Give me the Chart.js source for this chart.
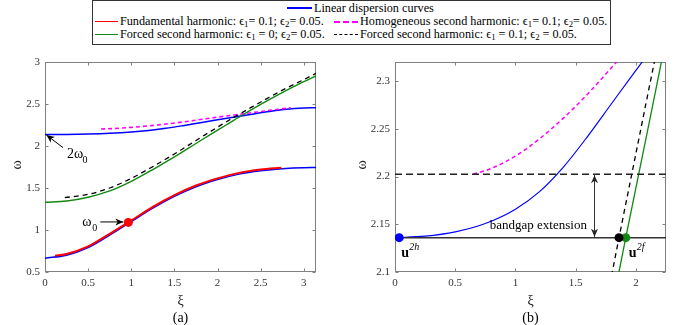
<!DOCTYPE html>
<html><head><meta charset="utf-8">
<script src="https://cdn.jsdelivr.net/npm/chart.js@4.4.0/dist/chart.umd.min.js"></script>
<style>
html,body{margin:0;padding:0;background:#fff;}
#wrap{position:relative;width:700px;height:325px;overflow:hidden;font-family:"Liberation Serif","Times New Roman",serif;}
canvas{position:absolute;top:0;}
#ca{left:0;}
#cb{left:350px;}
#legend{position:absolute;left:92px;top:0;width:519px;height:45px;border:1px solid #333;box-sizing:border-box;background:#fff;}
.item{position:absolute;white-space:nowrap;line-height:13px;font-size:12.2px;color:#000;}
.sw{position:absolute;height:0;}
sub{font-size:0.72em;vertical-align:-0.25em;line-height:0;}
</style></head>
<body>
<div id="wrap">
  <canvas id="ca" width="350" height="325"></canvas>
  <canvas id="cb" width="350" height="325"></canvas>
  <div id="legend"></div>
  <div class="sw" style="left:287px;top:7px;width:25px;border-top:2px solid #0000ff"></div>
  <div class="item" style="left:314px;top:1.5px">Linear dispersion curves</div>
  <div class="sw" style="left:95px;top:20.5px;width:23px;border-top:1.5px solid #ff0000"></div>
  <div class="item" style="left:120px;top:15px">Fundamental harmonic: ϵ<sub>1</sub>= 0.1; ϵ<sub>2</sub>= 0.05.</div>
  <div class="sw" style="left:334px;top:20.5px;width:24px;border-top:2px dashed #ff00ff"></div>
  <div class="item" style="left:360px;top:15px">Homogeneous second harmonic: ϵ<sub>1</sub>= 0.1; ϵ<sub>2</sub>= 0.05.</div>
  <div class="sw" style="left:95px;top:33.5px;width:23px;border-top:1.5px solid #118811"></div>
  <div class="item" style="left:120px;top:28px">Forced second harmonic: ϵ<sub>1</sub> = 0; ϵ<sub>2</sub>= 0.05.</div>
  <div class="sw" style="left:334px;top:33.5px;width:24px;border-top:1.5px dashed #000"></div>
  <div class="item" style="left:360px;top:28px">Forced second harmonic: ϵ<sub>1</sub> = 0.1; ϵ<sub>2</sub> = 0.05.</div>
</div>
<script>
// ---------- data ----------
// Linear dispersion curves (blue): lower and upper branch
const linearLowXi = [0, 0.25, 0.5, 0.75, 1.0, 1.25, 1.5, 1.75, 2.0, 2.25, 2.5, 2.75, 3.0, 3.1416];
const linearLowW  = [0.665, 0.70, 0.79, 0.94, 1.10, 1.26, 1.40, 1.515, 1.60, 1.665, 1.705, 1.73, 1.742, 1.743];
const linearUpXi  = [0, 0.25, 0.5, 0.75, 1.0, 1.2, 1.4, 1.6, 1.8, 2.0, 2.2, 2.4, 2.6, 2.8, 3.0, 3.1416];
const linearUpW   = [2.136, 2.1375, 2.142, 2.1508, 2.1658, 2.1842, 2.2102, 2.2422, 2.2768, 2.3112, 2.345, 2.378, 2.41, 2.437, 2.452, 2.456];
// Fundamental harmonic, eps1 = 0.1, eps2 = 0.05 (red)
const fundXi = [0.116, 0.25, 0.5, 0.75, 0.966, 1.25, 1.5, 1.75, 2.0, 2.25, 2.5, 2.74];
const fundW  = [0.695, 0.715, 0.805, 0.955, 1.09, 1.275, 1.415, 1.53, 1.615, 1.68, 1.72, 1.742];
// Homogeneous second harmonic (magenta dashed)
const homXi = [0.65, 0.8, 1.0, 1.2, 1.4, 1.6, 1.8, 2.0, 2.2, 2.4, 2.6, 2.85];
const homW  = [2.2025, 2.2085, 2.2215, 2.2395, 2.2615, 2.2865, 2.3145, 2.3435, 2.37, 2.397, 2.424, 2.455];
// Forced second harmonic, eps1 = 0 (green)
const forced0Xi = [0, 0.25, 0.5, 0.75, 1.0, 1.25, 1.5, 1.75, 1.916, 2.1, 2.3, 2.5, 2.75, 3.0, 3.1416];
const forced0W  = [1.33, 1.345, 1.39, 1.465, 1.58, 1.72, 1.87, 2.03, 2.136, 2.25, 2.375, 2.495, 2.635, 2.765, 2.835];
// Forced second harmonic, eps1 = 0.1 (black dashed)
const forced1Xi = [0.23, 0.5, 0.75, 1.0, 1.25, 1.5, 1.75, 1.86, 2.0, 2.17, 2.4, 2.6, 2.8, 3.0, 3.1416];
const forced1W  = [1.385, 1.425, 1.50, 1.615, 1.755, 1.905, 2.065, 2.136, 2.224, 2.33, 2.465, 2.58, 2.69, 2.79, 2.865];
// Marked points and band levels
const omega0Point   = [0.966, 1.09];
const u2hLevel      = 2.136;
const extendedLevel = 2.2025;
const u2hPoint      = [0.035, 2.136];
const cross1Point   = [1.86, 2.136];
const cross0Point   = [1.916, 2.136];
const bandgapArrowXi = 1.654;
// Axes
const aXRange = [0, Math.PI], aYRange = [0.5, 3];
const aXTicks = [0, 0.5, 1, 1.5, 2, 2.5, 3];
const aYTicks = [0.5, 1, 1.5, 2, 2.5, 3];
const bXRange = [0, 2.25], bYRange = [2.1, 2.32];
const bXTicks = [0, 0.5, 1, 1.5, 2];
const bYTicks = [2.1, 2.15, 2.2, 2.25, 2.3];

// ---------- helpers ----------
const FONT = "'Liberation Serif','Times New Roman',serif";
const fmt = v => String(Math.round(v * 100) / 100);
const pts = (xs, ws) => xs.map((v, i) => ({x: v, y: ws[i]}));
function lineDs(xs, ws, color, width, dash) {
  return {data: pts(xs, ws), borderColor: color, borderWidth: width, borderDash: dash || [],
    pointRadius: 0, showLine: true, fill: false, cubicInterpolationMode: 'monotone'};
}
function dotDs(p, color, r) {
  return {data: [{x: p[0], y: p[1]}], backgroundColor: color, borderColor: color, borderWidth: 0,
    pointRadius: r, showLine: false};
}
function arrowHead(ctx, x0, y0, x1, y1, len, hw) {
  const a = Math.atan2(y1 - y0, x1 - x0);
  ctx.beginPath();
  ctx.moveTo(x1, y1);
  ctx.lineTo(x1 - len * Math.cos(a) + hw * Math.sin(a), y1 - len * Math.sin(a) - hw * Math.cos(a));
  ctx.lineTo(x1 - len * 0.7 * Math.cos(a), y1 - len * 0.7 * Math.sin(a));
  ctx.lineTo(x1 - len * Math.cos(a) - hw * Math.sin(a), y1 - len * Math.sin(a) + hw * Math.cos(a));
  ctx.closePath();
  ctx.fill();
}
function arrow(ctx, x0, y0, x1, y1) {
  ctx.beginPath(); ctx.moveTo(x0, y0); ctx.lineTo(x1, y1); ctx.stroke();
  arrowHead(ctx, x0, y0, x1, y1, 8, 3.5);
}

const framePlugin = {
  id: 'frame',
  beforeDatasetsDraw(chart) {
    const {ctx, chartArea: a, scales: {x, y}} = chart;
    ctx.save();
    ctx.strokeStyle = '#808080'; ctx.lineWidth = 1;
    const L = Math.round(a.left) + 0.5, R = Math.round(a.right) - 0.5;
    const T = Math.round(a.top) + 0.5, B = Math.round(a.bottom) - 0.5;
    ctx.strokeRect(L, T, R - L, B - T);
    ctx.beginPath();
    x.ticks.forEach(t => {
      const px = Math.round(x.getPixelForValue(t.value)) + 0.5;
      ctx.moveTo(px, B); ctx.lineTo(px, B - 3);
      ctx.moveTo(px, T); ctx.lineTo(px, T + 3);
    });
    y.ticks.forEach(t => {
      const py = Math.round(y.getPixelForValue(t.value)) + 0.5;
      ctx.moveTo(L, py); ctx.lineTo(L + 3, py);
      ctx.moveTo(R, py); ctx.lineTo(R - 3, py);
    });
    ctx.stroke();
    // rotated y-axis label
    ctx.fillStyle = '#222';
    ctx.font = `14px ${FONT}`; ctx.textAlign = 'center'; ctx.textBaseline = 'middle';
    ctx.translate(chart.options.yLabelX, (a.top + a.bottom) / 2 - 2);
    ctx.rotate(-Math.PI / 2);
    ctx.fillText('ω', 0, 0);
    ctx.restore();
  }
};

function makeChart(id, cfg) {
  return new Chart(document.getElementById(id), {
    type: 'scatter',
    data: {datasets: cfg.datasets},
    options: {
      responsive: false, animation: false, devicePixelRatio: 1, events: [],
      yLabelX: cfg.yLabelX,
      layout: {padding: {left: 0, top: 62, right: 34, bottom: 0}},
      plugins: {legend: {display: false}, tooltip: {enabled: false}},
      scales: {
        x: {type: 'linear', position: 'bottom', min: cfg.xRange[0], max: cfg.xRange[1],
          afterBuildTicks: s => { s.ticks = cfg.xTicks.map(v => ({value: v})); },
          afterFit: s => { s.height = 53; },
          grid: {display: false, drawTicks: false}, border: {display: false},
          ticks: {padding: 5, color: '#333', font: {family: FONT, size: 11}, autoSkip: false, maxRotation: 0, callback: v => fmt(v)},
          title: {display: true, text: 'ξ', color: '#222', font: {family: FONT, size: 14}, padding: {top: 0, bottom: 15}}
        },
        y: {type: 'linear', position: 'left', min: cfg.yRange[0], max: cfg.yRange[1],
          afterBuildTicks: s => { s.ticks = cfg.yTicks.map(v => ({value: v})); },
          afterFit: s => { s.width = 45; },
          grid: {display: false, drawTicks: false}, border: {display: false},
          ticks: {padding: 5, color: '#333', font: {family: FONT, size: 11}, autoSkip: false, callback: v => fmt(v)},
          title: {display: false}
        }
      }
    },
    plugins: [framePlugin, cfg.annot]
  });
}

// ---------- panel (a) ----------
makeChart('ca', {
  xRange: aXRange, yRange: aYRange, xTicks: aXTicks, yTicks: aYTicks, yLabelX: 17,
  datasets: [
    dotDs(omega0Point, '#ff0000', 4.5),
    lineDs(fundXi, fundW, '#ff0000', 2),
    lineDs(forced1Xi, forced1W, '#000000', 1.3, [5, 4]),
    lineDs(forced0Xi, forced0W, '#118811', 1.4),
    lineDs(homXi, homW, '#ff00ff', 1.6, [4, 3]),
    lineDs(linearUpXi, linearUpW, '#0000ff', 1.5),
    lineDs(linearLowXi, linearLowW, '#0000ff', 1.5)
  ],
  annot: {
    id: 'annotA',
    afterDatasetsDraw(chart) {
      const {ctx, chartArea: a, scales: {x, y}} = chart;
      ctx.save();
      ctx.fillStyle = '#000'; ctx.strokeStyle = '#000'; ctx.lineWidth = 1;
      // omega_0 label and arrow
      const px = x.getPixelForValue(omega0Point[0]), py = y.getPixelForValue(omega0Point[1]);
      arrow(ctx, px - 28, py - 0.5, px - 5, py - 0.5);
      ctx.textBaseline = 'alphabetic'; ctx.textAlign = 'left';
      ctx.font = `14px ${FONT}`;
      ctx.fillText('ω', px - 46, py + 4);
      ctx.font = `10px ${FONT}`;
      ctx.fillText('0', px - 36, py + 9);
      // 2 omega_0 label and arrow (to the start of the upper linear branch)
      const qx = x.getPixelForValue(linearUpXi[0]), qy = y.getPixelForValue(linearUpW[0]);
      arrow(ctx, qx + 18, qy + 13, qx + 1.5, qy + 0.5);
      ctx.font = `14px ${FONT}`;
      ctx.fillText('2ω', qx + 22, qy + 23);
      ctx.font = `10px ${FONT}`;
      ctx.fillText('0', qx + 37.5, qy + 28.5);
      // panel caption
      ctx.font = `14px ${FONT}`; ctx.textAlign = 'center'; ctx.textBaseline = 'middle';
      ctx.fillText('(a)', (a.left + a.right) / 2, 318);
      ctx.restore();
    }
  }
});

// ---------- panel (b) ----------
makeChart('cb', {
  xRange: bXRange, yRange: bYRange, xTicks: bXTicks, yTicks: bYTicks, yLabelX: 12,
  datasets: [
    dotDs(u2hPoint, '#0000ff', 4.5),
    dotDs(cross1Point, '#000000', 4.5),
    dotDs(cross0Point, '#118811', 4.5),
    lineDs([bXRange[0], bXRange[1]], [u2hLevel, u2hLevel], '#333333', 1.5),
    lineDs([bXRange[0], bXRange[1]], [extendedLevel, extendedLevel], '#222222', 1.5, [7, 4]),
    lineDs(forced0Xi, forced0W, '#118811', 1.3),
    lineDs(forced1Xi, forced1W, '#000000', 1.3, [5, 4]),
    lineDs(homXi, homW, '#ff00ff', 1.5, [4, 3]),
    lineDs(linearUpXi, linearUpW, '#0000ff', 1.2)
  ],
  annot: {
    id: 'annotB',
    afterDatasetsDraw(chart) {
      const {ctx, chartArea: a, scales: {x, y}} = chart;
      ctx.save();
      ctx.fillStyle = '#000'; ctx.strokeStyle = '#333'; ctx.lineWidth = 1;
      // bandgap double arrow
      const ax = Math.round(x.getPixelForValue(bandgapArrowXi)) + 0.5;
      const y0 = y.getPixelForValue(u2hLevel), y1 = y.getPixelForValue(extendedLevel);
      ctx.beginPath(); ctx.moveTo(ax, y0); ctx.lineTo(ax, y1); ctx.stroke();
      ctx.fillStyle = '#222';
      arrowHead(ctx, ax, y0, ax, y1 + 1, 8, 3.5);
      arrowHead(ctx, ax, y1, ax, y0 - 1, 8, 3.5);
      ctx.fillStyle = '#000';
      // text
      ctx.font = `13px ${FONT}`; ctx.textAlign = 'center'; ctx.textBaseline = 'middle';
      ctx.fillText('bandgap extension', x.getPixelForValue(1.19), y.getPixelForValue(2.149));
      ctx.textAlign = 'left'; ctx.textBaseline = 'alphabetic';
      const ux = x.getPixelForValue(u2hPoint[0]), uy = y.getPixelForValue(u2hPoint[1]);
      ctx.font = `bold 14px ${FONT}`;
      ctx.fillText('u', ux + 2, uy + 19);
      ctx.font = `italic 10px ${FONT}`;
      ctx.fillText('2h', ux + 10, uy + 12);
      const gx = x.getPixelForValue(cross0Point[0]), gy = y.getPixelForValue(cross0Point[1]);
      ctx.font = `bold 14px ${FONT}`;
      ctx.fillText('u', gx + 3, gy + 19);
      ctx.font = `italic 10px ${FONT}`;
      ctx.fillText('2f', gx + 11, gy + 12);
      // caption
      ctx.font = `14px ${FONT}`; ctx.textAlign = 'center'; ctx.textBaseline = 'middle';
      ctx.fillText('(b)', (a.left + a.right) / 2, 318);
      ctx.restore();
    }
  }
});
</script>
</body></html>
